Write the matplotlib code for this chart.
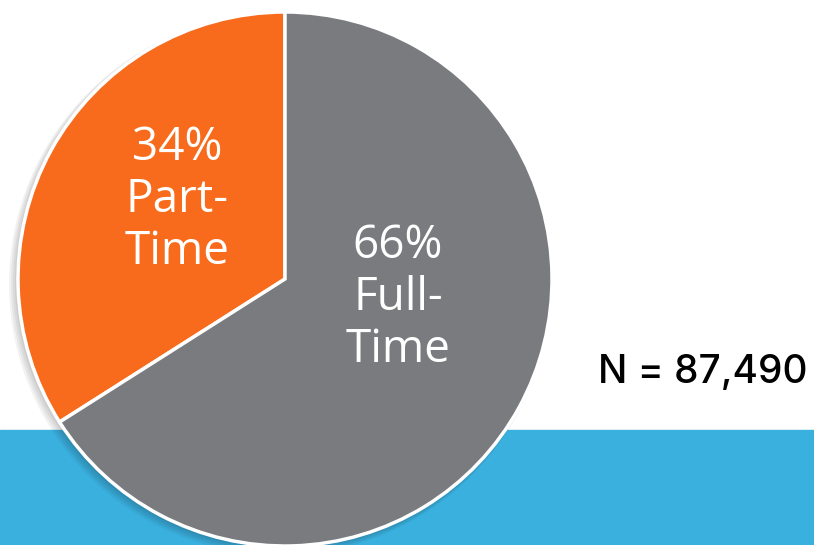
import matplotlib.pyplot as plt
from matplotlib.patches import Circle, Rectangle

labels = ["34%\nPart-\nTime", "66%\nFull-\nTime"]
shares = [34, 66]
colors = ["#F96B1C", "#7A7B7F"]
total_n = "N = 87,490"

fig = plt.figure(figsize=(8.14, 5.45), dpi=100)
ax = fig.add_axes([0, 0, 1, 1])
ax.set_xlim(0, 814)
ax.set_ylim(0, 545)
ax.set_aspect("equal")
ax.axis("off")

# blue band along the bottom
ax.add_patch(Rectangle((0, 0), 814, 115, color="#3AB0DF", zorder=0))

cx, cy, r = 285, 266, 267

# soft drop shadow behind the pie
for i in range(4):
    ax.add_patch(Circle((cx - 2 - i, cy - 2 - i), r + 1 + i, color="black",
                        alpha=0.05, lw=0, zorder=1))

wedges, texts = ax.pie(shares, colors=colors, startangle=90, counterclock=True,
                       center=(cx, cy), radius=r, labels=labels,
                       labeldistance=None, frame=True,
                       wedgeprops=dict(edgecolor="white", linewidth=2.5))
for w in wedges:
    w.set_zorder(2)
ax.set_xlim(0, 814)
ax.set_ylim(0, 545)
ax.axis("off")

ax.text(177, 545 - 200, labels[0], ha="center", va="center", color="white",
        fontsize=33, family="Open Sans", linespacing=1.17, zorder=3)
ax.text(398, 545 - 298, labels[1], ha="center", va="center", color="white",
        fontsize=33, family="Open Sans", linespacing=1.17, zorder=3)

ax.text(703, 545 - 372, total_n, ha="center", va="center", color="black",
        fontsize=28, family="Inter", fontweight="medium", zorder=3)

fig.savefig("out.png", dpi=100)
